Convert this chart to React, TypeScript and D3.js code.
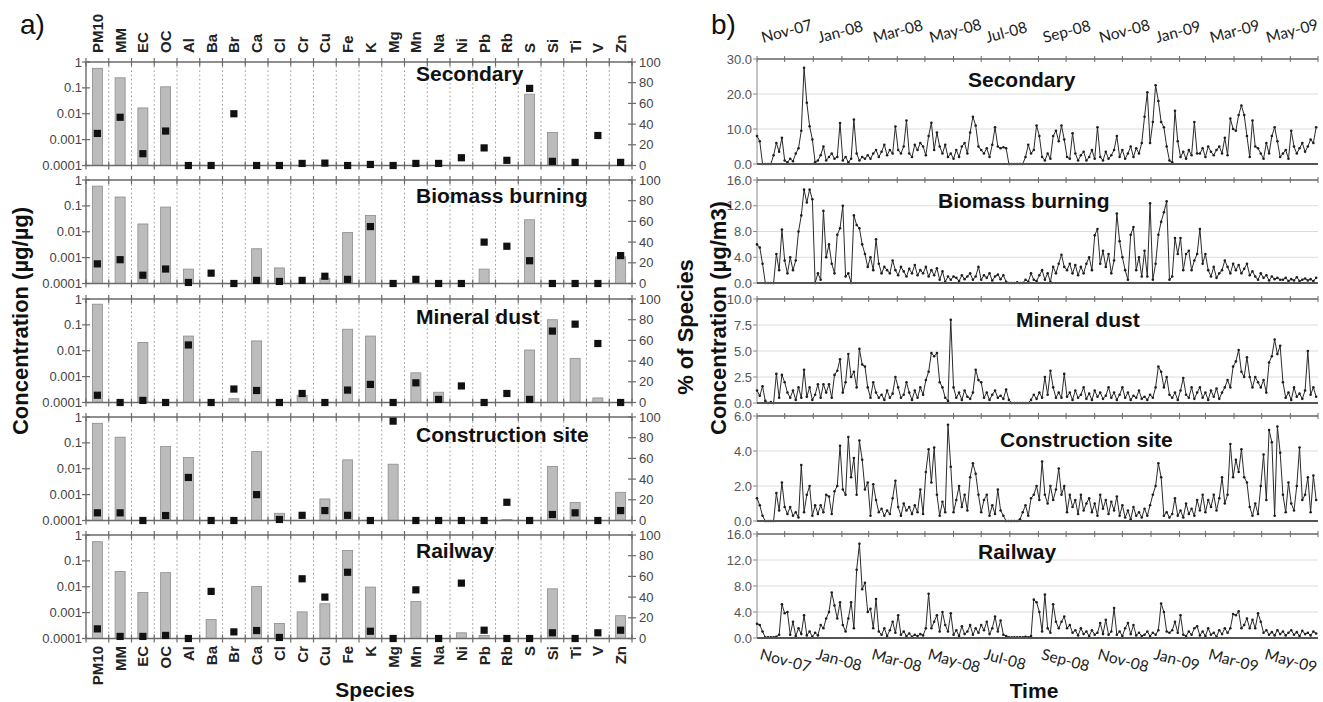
import React from "react";
import * as d3 from "d3";

// ---------------- DATA: panel a) source profiles ----------------
const SPECIES = ["PM10","MM","EC","OC","Al","Ba","Br","Ca","Cl","Cr","Cu","Fe","K","Mg","Mn","Na","Ni","Pb","Rb","S","Si","Ti","V","Zn"];
const SOURCES = ["Secondary","Biomass burning","Mineral dust","Construction site","Railway"];

// concentration (µg/µg), null = no bar
const CONC_SECONDARY = [0.57,0.245,0.0168,0.11,null,null,null,null,null,null,null,null,null,null,null,null,null,null,null,0.057,0.0019,null,null,null];
const CONC_BIOMASS = [0.58,0.22,0.02,0.09,0.00036,null,null,0.0022,0.0004,null,0.00016,0.0093,0.043,null,null,null,null,0.00036,null,0.029,null,null,null,0.00107];
const CONC_MINERAL = [0.63,null,0.021,null,0.037,null,0.00014,0.024,null,0.00019,null,0.068,0.037,null,0.0014,0.00025,null,null,null,0.0107,0.158,0.0051,0.00015,null];
const CONC_CONSTRUCTION = [0.57,0.166,null,0.072,0.027,null,null,0.046,0.00019,null,0.00068,0.022,null,0.015,null,null,null,null,0.00011,null,0.0123,0.0005,null,0.00123];
const CONC_RAILWAY = [0.55,0.039,0.006,0.035,null,0.00054,null,0.0102,0.00038,0.00107,0.0022,0.25,0.0097,null,0.0027,null,0.000166,0.00013,null,null,0.0083,null,null,0.00076];

// % of species
const PCT_SECONDARY = [31,46.6,11.4,33.3,0,0,50,0,0,2,2.3,0,1,0,2,2,7.5,17,5,74.5,4,3,29,3];
const PCT_BIOMASS = [19,23,8,14,1,10,0,3,2,3,7,4,55,0,4,0,0,40,36,22,0,0,0,27];
const PCT_MINERAL = [7,0,2,0,55.6,0,13,11.6,0,8.7,0,12,17.5,0,19,3,16,0,8.7,3,69,75.7,57,0];
const PCT_CONSTRUCTION = [7.4,7.4,0,4.8,41.6,0,0,25,1,5,9.6,5,0,96,0,0,0,0,17.6,0,5.8,7.4,0,9.6];
const PCT_RAILWAY = [9.3,2,2,3,0,45.5,6.4,7.7,1,57.7,40,64,7,0,47,0,53.5,8,0,0,5.5,0,5.5,8];

const CONC = [CONC_SECONDARY, CONC_BIOMASS, CONC_MINERAL, CONC_CONSTRUCTION, CONC_RAILWAY];
const PCT = [PCT_SECONDARY, PCT_BIOMASS, PCT_MINERAL, PCT_CONSTRUCTION, PCT_RAILWAY];

const LOG_TICKS = [1, 0.1, 0.01, 0.001, 0.0001];
const LOG_TICK_LABELS = ["1", "0.1", "0.01", "0.001", "0.0001"];
const PCT_TICKS = [0, 20, 40, 60, 80, 100];

// ---------------- DATA: panel b) time series (every 3 days from 1 Nov 2007) ----------------
const TS_START = new Date(2007, 10, 1);
const TS_STEP_DAYS = 3;
const TS_SECONDARY = [
  8,6.5,0,0,0,0,2.5,6,3.5,7.5,
  1,0.5,1.5,0.8,3,4.5,9.5,27.5,17.5,10.8,
  7,0.5,1,2.5,5,1,2,3,1.5,2,
  11.7,1,2,0.5,1.5,12.7,3,1,2,1.5,
  2.5,1.5,3,4,2,3.5,5.5,2.5,4,3,
  10.7,4,3,5,12.4,3,2,5.5,4,6,
  5,2.5,8,11.8,4,9,5,3,5.5,2,
  3,1.5,4,2,5,6,3,9,13.5,11,
  5,4,3,4.5,2,5.5,10.5,5,4.5,4.8,
  4.5,0,0,0,0,0,0,2,5.5,3,
  4,11,8,2,1,3,1.5,8,9.5,6.5,
  11,7,2,1.5,8.8,3,1,2.5,3.5,1,
  2,4,1.5,10.5,2,1,3.5,1.5,2.5,4,
  8,2,4,1.5,3,5,2,4.5,3,6,
  13.5,20.5,6,12,22.5,18,12,10.5,5,1,
  0.5,15.2,6.5,2,3.5,1.5,4,2.5,12,3,
  3,4.5,2,5,3.5,2.5,4,5,3,7.5,
  2.5,13,10,9.5,14,16.7,14,8,2,12.4,
  5,4.5,3,1.5,6,3,8,10.5,6.5,2,
  3,4,1.5,9.5,5,3,4.5,6,3.5,5,7,6,10.5
];
const TS_BIOMASS = [
  6,5.5,3,0,0,0,0,4.5,2,8.3,
  3.5,1.5,4,2,3.5,8,10.5,14.5,12.5,14.5,
  13,0,1.5,0.5,11.2,4,6,3,1.5,7.5,
  8.5,12,1,1.5,0,10.5,9,8.5,6,4.5,
  2.5,4,2,6.8,3,1.5,2.5,2,1.5,3.5,
  2,1.2,2.5,1.8,1,2.2,1.5,2.8,1.2,2,
  1.5,2.5,1,2,1.2,2.3,0.5,1.8,0.2,1,
  0.5,1,0.8,0.3,1.2,0.6,1,1.5,0.5,1,
  2.5,0.5,1.2,0.8,1.5,0.4,1,1.3,0.6,1.2,
  0.2,0,0,0,0.1,0,0,0.5,0.2,1.5,
  0.5,0.3,1.2,2,0.5,1.5,0.2,2.5,1.5,3,
  4.4,2.5,2,3,1.5,2.8,1.2,2.5,1.5,3,
  4,2,7.4,8.4,3,5,2.5,4.5,1.5,3.5,
  10.8,6.5,4,2,0.5,7.5,8.7,2,4,1,
  5,1,12.4,0.5,3,7.5,9.5,11,12.7,0.5,
  1,7,4.5,7,2,4.5,5,2,3.5,4.5,
  8.4,3,4.5,2,1,2.5,0.8,1.5,2,3.5,
  2.5,1.5,3,2,2.8,1.5,2.2,3,1.2,1.8,
  1,0.5,1.5,0.8,1.2,0.4,1,0.6,0.8,0.5,
  0.5,0.8,0.3,0.6,0.4,0.9,0.3,0.5,0.7,0.4,0.6,0.3,0.8
];
const TS_MINERAL = [
  1.2,0.7,1.6,0.2,0,0.1,0,2.8,0.5,2.7,
  2,1,0.5,1.2,0.3,1.5,0.5,3.2,0.6,1.5,
  0.3,0.8,1.8,0.5,1.8,1,1.8,0.5,2.7,3.1,
  4.2,1,2,4.7,2.5,3,1.5,5.2,3.7,3.5,
  1.5,0.5,2,1,0.5,0.8,0.3,1.2,0.5,0.9,
  2.5,1.5,0.5,0.8,2,1,0.3,1.2,0.5,1.5,
  0.8,2.2,3,4.8,4.5,4.8,2,1.5,0.5,0.2,
  8,1.5,0.5,1,0.3,1.2,0.6,0.4,1,3.2,
  2.2,2,0.5,1,0.3,0.8,1.2,0.5,0.7,0.4,
  1.3,0.3,0,0,0,0,0,0,0,0.3,
  0.8,0.4,1,0.5,2.5,0.8,3.1,1.5,0.5,1,
  0.5,2.8,0.6,1,0.3,1.2,0.5,0.8,1.5,0.4,
  0.9,0.3,1.2,0.6,1,0.4,0.7,1.5,0.5,1,
  0.3,0.8,1.5,0.5,1,0.3,0.7,0.5,1.2,0.4,
  0.6,0.3,0.8,0.5,1.5,3.5,3,1.5,2.5,0.8,
  0.5,1,0.3,1.2,2.4,0.8,0.5,1.5,0.4,1,
  1.5,0.5,1,0.3,1.2,0.6,1.4,0.4,1,1.5,
  2.2,1.5,3.5,4,5.1,3,2.5,4.4,2.5,1.5,
  2.5,2,1.5,2.2,1,3.9,4.5,6.1,4.7,5.5,
  2,0.5,1,0.3,1.5,0.6,0.9,0.4,1.2,5,0.8,1.5,0.6
];
const TS_CONSTRUCTION = [
  1.3,0.9,0.3,0,0,0,0,1.6,0.6,2.2,
  0.8,0.4,0.8,0.3,0.5,0.2,3.2,0.5,1.5,2,
  0.3,0.9,0.4,0.9,0.5,1.5,1.4,0.4,1.7,2,
  4.3,1.8,1.5,4.8,2.5,3.6,1.5,4.6,3.5,1.8,
  2.2,0.3,2.1,1.2,0.5,0.7,0.3,0.6,0.4,1.3,
  2.3,0.8,0.3,1,0.6,0.8,0.4,0.9,0.5,1.8,
  0.4,2.8,4.1,2.2,4.2,1.5,0.3,1.1,0.5,5.5,
  3.1,0.5,1.2,2,0.8,1.5,0.6,2.5,3.3,2.7,
  1.5,0.5,1.2,1.5,0.3,0.9,0.4,1.8,0.6,0.3,
  0,0,0,0,0,0.1,0.5,0.9,0.3,1.3,
  1.5,2,1.2,3.4,1.5,1,2,1.2,1.8,3,
  1.5,2,0.5,1.5,0.8,1.2,0.4,1.5,0.6,1,
  1.3,0.5,1,0.3,1.5,0.7,1.2,0.4,1.1,0.6,
  1.4,0.3,0.9,0.2,0.6,0.1,0.8,0.3,0.5,0.2,
  0.7,0.3,0.9,1.5,2,3.3,2.5,0.3,0.5,0.2,
  0.4,1.3,0.3,0.6,0.2,1,0.4,0.7,0.3,1.2,
  0.6,1.5,0.5,1.2,0.8,1.5,0.6,1.3,2.5,1,
  1.5,4.4,2.5,3.5,2.8,4.1,2.5,2.2,0.8,0.3,
  1,0.4,2,3.8,1.2,5.2,4.5,0.3,5.4,3.9,
  1.5,0.5,2.2,1,0.6,2,4.2,1.2,1.5,2.5,0.5,2.6,1.2
];
const TS_RAILWAY = [
  2.2,2,1,0.1,0.1,0.1,0.1,0.2,0.5,5.2,
  3.8,4,0.5,2.5,0.3,1.5,0.6,3.5,0.4,1,
  0.2,0.8,0.4,2,1.5,3,4,7,5,3,
  5.5,2,1,3,5.5,1.5,10.5,14.5,7.5,8.5,
  4,4.5,1.5,6,1,0.5,1.5,0.3,1.2,2.5,
  0.8,3.5,0.5,1,0.3,0.7,0.2,0.5,0.3,0.6,
  0.4,1.5,6.8,1.5,2.5,3.5,1,4,2,1,
  3.8,0.5,1.2,0.3,1.8,0.6,1,2,0.5,1.5,
  0.8,2,1.2,2.5,0.6,1.5,3.3,1,2.7,0.5,
  0.3,0.1,0.1,0.1,0.1,0.1,0.1,0.2,0.1,0.3,
  5.9,5.5,4,1,6.7,1.5,0.8,5.2,2.5,1.5,
  2.5,3.3,1.5,2,0.8,1.2,0.4,1.5,0.6,1,
  0.3,1.2,0.5,0.8,2.3,0.6,2.8,0.5,1,4.6,
  0.5,1,0.3,1.5,2.3,0.6,2,0.4,0.8,0.3,
  0.5,1,0.3,0.8,0.5,1.2,5.3,4,1,0.8,
  1.2,2.5,0.8,3.5,0.5,0.3,1,0.5,1.5,1.8,
  0.4,1,0.3,1.5,0.5,0.8,0.2,1.2,0.6,1.5,
  0.8,1.5,3.7,3.5,4.1,1.5,2,3,1.5,2.8,
  1.5,3.8,2.5,0.8,1.2,0.5,0.9,0.4,1.2,0.6,
  1,0.4,0.8,1.2,0.5,0.9,0.3,1.1,0.6,0.8,0.4,1,0.7
];
const TS = [TS_SECONDARY, TS_BIOMASS, TS_MINERAL, TS_CONSTRUCTION, TS_RAILWAY];
const TS_Y_MAX = [30, 16, 10, 6, 16];
const TS_Y_TICKS = [[0, 10, 20, 30], [0, 4, 8, 12, 16], [0, 2.5, 5, 7.5, 10], [0, 2, 4, 6], [0, 4, 8, 12, 16]];
const TIME_DOMAIN = [new Date(2007, 10, 1), new Date(2009, 6, 1)];

// ---------------- LAYOUT ----------------
const FONT = "'Liberation Sans', Arial, Helvetica, sans-serif";
const DATE_FONT = "Lato, 'Open Sans', sans-serif";
const L_X0 = 86, L_X1 = 632;
const L_TOPS = [62, 180, 299, 417, 535];
const L_H = 103.5;
const L_TITLE_BASE = [81, 203, 324, 442, 558];
const R_X0 = 757, R_X1 = 1318;
const R_TOPS = [59, 180, 299, 416, 534];
const R_BOTS = [164, 283, 403, 521, 638];
const R_TITLE_X = [968, 938, 1016, 1000, 978];
const R_TITLE_BASE = [87, 208, 327, 447, 559];

const AXIS = "#6a6a6a";

function SpeciesPanel({ k }: { k: number }) {
  const top = L_TOPS[k], bottom = top + L_H;
  const x = d3.scaleBand<string>().domain(SPECIES).range([L_X0, L_X1]);
  const yLog = d3.scaleLog().domain([1e-4, 1]).range([bottom, top]);
  const yPct = d3.scaleLinear().domain([0, 100]).range([bottom, top]);
  const step = x.step();
  const conc = CONC[k], pct = PCT[k];
  const cx = (s: string) => (x(s) as number) + step / 2;
  return (
    <g>
      {d3.range(1, SPECIES.length).map((j) => (
        <line key={"dv" + j} x1={L_X0 + j * step} x2={L_X0 + j * step} y1={top} y2={bottom}
          stroke="#9c9c9c" strokeWidth={1} strokeDasharray="1.6,2.6" />
      ))}
      {SPECIES.map((s, j) => {
        const v = conc[j];
        if (v == null) return null;
        const yy = yLog(v);
        return <rect key={"b" + j} x={cx(s) - 5} y={yy} width={10} height={bottom - yy}
          fill="#bcbcbc" stroke="#8c8c8c" strokeWidth={0.8} />;
      })}
      <line x1={L_X0} x2={L_X1} y1={top} y2={top} stroke={AXIS} strokeWidth={1.6} />
      <line x1={L_X0} x2={L_X1} y1={bottom} y2={bottom} stroke={AXIS} strokeWidth={1.6} />
      <line x1={L_X0} x2={L_X0} y1={top} y2={bottom} stroke={AXIS} strokeWidth={1.4} />
      <line x1={L_X1} x2={L_X1} y1={top} y2={bottom} stroke={AXIS} strokeWidth={1.4} />
      {d3.range(0, SPECIES.length + 1).map((j) => (
        <g key={"tk" + j}>
          <line x1={L_X0 + j * step} x2={L_X0 + j * step} y1={top - 4} y2={top + 4} stroke={AXIS} strokeWidth={1.2} />
          <line x1={L_X0 + j * step} x2={L_X0 + j * step} y1={bottom - 4} y2={bottom + 4} stroke={AXIS} strokeWidth={1.2} />
        </g>
      ))}
      {LOG_TICKS.map((t, j) => (
        <g key={"lt" + j}>
          <line x1={L_X0 - 4} x2={L_X0 + 4} y1={yLog(t)} y2={yLog(t)} stroke={AXIS} strokeWidth={1.2} />
          <text x={L_X0 - 4} y={yLog(t) + 4.5} textAnchor="end" fontSize={13} fill="#444" fontFamily={FONT}>{LOG_TICK_LABELS[j]}</text>
        </g>
      ))}
      {PCT_TICKS.map((t) => (
        <g key={"pt" + t}>
          <line x1={L_X1 - 4} x2={L_X1 + 4} y1={yPct(t)} y2={yPct(t)} stroke={AXIS} strokeWidth={1.2} />
          <text x={L_X1 + 7} y={yPct(t) + 4.5} textAnchor="start" fontSize={13} fill="#444" fontFamily={FONT}>{t}</text>
        </g>
      ))}
      {SPECIES.map((s, j) => (
        <rect key={"sq" + j} x={cx(s) - 3.6} y={yPct(pct[j]) - 3.6} width={7.2} height={7.2} fill="#111" />
      ))}
      <text x={416} y={L_TITLE_BASE[k]} fontSize={21} fontWeight="bold" fill="#111" fontFamily={FONT}>{SOURCES[k]}</text>
    </g>
  );
}

function TimePanel({ k }: { k: number }) {
  const top = R_TOPS[k], bottom = R_BOTS[k];
  const x = d3.scaleTime().domain(TIME_DOMAIN).range([R_X0, R_X1]);
  const y = d3.scaleLinear().domain([0, TS_Y_MAX[k]]).range([bottom, top]);
  const vals = TS[k];
  const dates = vals.map((_, i) => d3.timeDay.offset(TS_START, i * TS_STEP_DAYS));
  const line = d3.line<number>().x((_, i) => x(dates[i])).y((d) => y(d));
  const months = d3.timeMonth.range(TIME_DOMAIN[0], d3.timeDay.offset(TIME_DOMAIN[1], 1));
  const ticks = TS_Y_TICKS[k];
  const fmt = d3.format(".1f");
  return (
    <g>
      {ticks.slice(1, -1).map((t) => (
        <line key={"g" + t} x1={R_X0} x2={R_X1} y1={y(t)} y2={y(t)} stroke="#dcdcdc" strokeWidth={1} />
      ))}
      <line x1={R_X0} x2={R_X1} y1={top} y2={top} stroke="#8a8a8a" strokeWidth={1.8} />
      {months.map((m, j) => (
        <line key={"m" + j} x1={x(m)} x2={x(m)} y1={top - 3} y2={top + 3} stroke="#6a6a6a" strokeWidth={1} />
      ))}
      <line x1={R_X0} x2={R_X0} y1={top} y2={bottom} stroke="#8a8a8a" strokeWidth={1} />
      {ticks.map((t) => (
        <g key={"yt" + t}>
          <line x1={R_X0 - 4} x2={R_X0} y1={y(t)} y2={y(t)} stroke="#8a8a8a" strokeWidth={1} />
          <text x={R_X0 - 5} y={y(t) + 4.5} textAnchor="end" fontSize={13} fill="#555" fontFamily={FONT}>{fmt(t)}</text>
        </g>
      ))}
      <path d={line(vals) || ""} fill="none" stroke="#2a2a2a" strokeWidth={1} />
      {vals.map((v, i) => (
        <circle key={"c" + i} cx={x(dates[i])} cy={y(v)} r={1.3} fill="#1e1e1e" />
      ))}
      <line x1={R_X0} x2={R_X1} y1={bottom} y2={bottom} stroke="#555" strokeWidth={1.8} />
      <text x={R_TITLE_X[k]} y={R_TITLE_BASE[k]} fontSize={21} fontWeight="bold" fill="#111" fontFamily={FONT}>{SOURCES[k]}</text>
    </g>
  );
}

export default function App() {
  const xb = d3.scaleBand<string>().domain(SPECIES).range([L_X0, L_X1]);
  const step = xb.step();
  const xt = d3.scaleTime().domain(TIME_DOMAIN).range([R_X0, R_X1]);
  const months = d3.timeMonth.range(TIME_DOMAIN[0], TIME_DOMAIN[1]).filter((_, i) => i % 2 === 0);
  const mfmt = d3.timeFormat("%b-%y");
  return (
    <svg width={1323} height={702} style={{ position: "absolute", left: 0, top: 0, background: "#fff" }}
      fontFamily={FONT}>
      <rect x={0} y={0} width={1323} height={702} fill="#fff" />
      {/* panel a */}
      <text x={20} y={34} fontSize={28} fill="#111" fontFamily={FONT}>a)</text>
      {SPECIES.map((s) => {
        const c = (xb(s) as number) + step / 2 + 5.5;
        return (
          <g key={"sl" + s}>
            <text transform={`translate(${c},53) rotate(-90)`} textAnchor="start" fontSize={15} fontWeight="bold" fill="#222" fontFamily={FONT}>{s}</text>
            <text transform={`translate(${c},646) rotate(-90)`} textAnchor="end" fontSize={15} fontWeight="bold" fill="#222" fontFamily={FONT}>{s}</text>
          </g>
        );
      })}
      {SOURCES.map((_, k) => <SpeciesPanel key={"sp" + k} k={k} />)}
      <text transform="translate(28,321) rotate(-90)" textAnchor="middle" fontSize={22} fontWeight="bold" fill="#111" fontFamily={FONT}>Concentration (µg/µg)</text>
      <text transform="translate(693,327) rotate(-90)" textAnchor="middle" fontSize={22} fontWeight="bold" fill="#111" fontFamily={FONT}>% of Species</text>
      <text x={375} y={697} textAnchor="middle" fontSize={21} fontWeight="bold" fill="#111" fontFamily={FONT}>Species</text>

      {/* panel b */}
      <text x={711} y={34} fontSize={28} fill="#111" fontFamily={FONT}>b)</text>
      {months.map((m, j) => (
        <g key={"ml" + j}>
          <text transform={`translate(${xt(m) + 6},43) rotate(-15)`} fontSize={15.5} fill="#222" fontFamily={DATE_FONT}>{mfmt(m)}</text>
          <text transform={`translate(${xt(m) + 2},659) rotate(15)`} fontSize={15.5} fill="#222" fontFamily={DATE_FONT}>{mfmt(m)}</text>
        </g>
      ))}
      {SOURCES.map((_, k) => <TimePanel key={"tp" + k} k={k} />)}
      <text transform="translate(726,318) rotate(-90)" textAnchor="middle" fontSize={22} fontWeight="bold" fill="#111" fontFamily={FONT}>Concentration (µg/m3)</text>
      <text x={1034} y={698} textAnchor="middle" fontSize={21} fontWeight="bold" fill="#111" fontFamily={FONT}>Time</text>
    </svg>
  );
}
